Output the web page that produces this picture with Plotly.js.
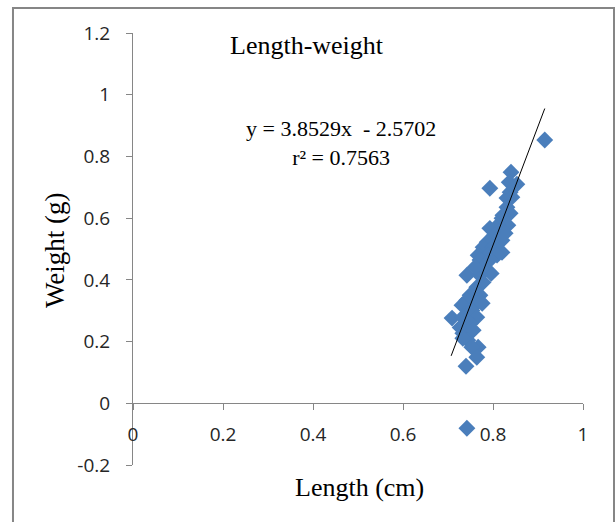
<!DOCTYPE html>
<html>
<head>
<meta charset="utf-8">
<script src="https://cdn.plot.ly/plotly-3.0.1.min.js"></script>
<style>html,body{margin:0;padding:0;background:#fff;}#chart{width:616px;height:522px;}</style>
</head>
<body>
<div id="chart"></div>
<script>
// Data
const lengthCm = [0.915,0.793,0.840,0.853,0.836,0.838,0.831,0.842,0.831,0.838,0.822,0.820,0.833,0.811,0.793,0.827,0.804,0.820,0.787,0.778,0.800,0.820,0.767,0.789,0.809,0.771,0.793,0.742,0.796,0.771,0.778,0.764,0.749,0.771,0.742,0.764,0.731,0.753,0.709,0.733,0.764,0.727,0.749,0.733,0.756,0.744,0.767,0.753,0.764,0.740,0.733,0.778,0.760,0.776,0.742];
const weightG  = [0.853,0.697,0.749,0.710,0.716,0.684,0.665,0.668,0.635,0.616,0.609,0.600,0.577,0.577,0.567,0.551,0.545,0.528,0.522,0.506,0.506,0.489,0.480,0.480,0.480,0.464,0.464,0.415,0.421,0.415,0.392,0.376,0.350,0.350,0.334,0.324,0.318,0.301,0.276,0.279,0.279,0.246,0.259,0.227,0.237,0.204,0.182,0.182,0.149,0.120,0.211,0.441,0.441,0.324,-0.081];
const slope = 3.8529;
const intercept = -2.5702;
const rSquared = 0.7563;
const trendX = [0.707, 0.915];
const xTicks = [0, 0.2, 0.4, 0.6, 0.8, 1];
const xTickLabels = ['0','0.2','0.4','0.6','0.8','1'];
const yTicks = [-0.2, 0, 0.2, 0.4, 0.6, 0.8, 1, 1.2];
const yTickLabels = ['-0.2','0','0.2','0.4','0.6','0.8','1','1.2'];

const trendY = trendX.map(x => slope * x + intercept);

const serif = '"Liberation Serif", "Times New Roman", serif';
const sans = '"Open Sans", "Liberation Sans", sans-serif';

const data = [
  {
    x: lengthCm, y: weightG, type: 'scatter', mode: 'markers',
    marker: {symbol: 'diamond', size: 13, color: '#4a7ebb', line: {width: 0}},
    hoverinfo: 'x+y', showlegend: false
  },
  {
    x: trendX, y: trendY, type: 'scatter', mode: 'lines',
    line: {color: '#000000', width: 1}, hoverinfo: 'skip', showlegend: false
  }
];

const layout = {
  width: 616, height: 522,
  margin: {l: 133, r: 33, t: 33, b: 57, pad: 0},
  paper_bgcolor: '#ffffff', plot_bgcolor: '#ffffff',
  showlegend: false,
  xaxis: {
    range: [0, 1], domain: [0, 1],
    anchor: 'free', position: 1/7,
    tickvals: xTicks, ticktext: xTickLabels,
    showgrid: false, zeroline: false,
    showline: true, linecolor: '#868686', linewidth: 1,
    ticks: 'outside', ticklen: 6, tickcolor: '#868686',
    ticklabelstandoff: 8,
    tickfont: {family: sans, size: 19, color: '#262626'}
  },
  yaxis: {
    range: [-0.2, 1.2], domain: [0, 1],
    tickvals: yTicks, ticktext: yTickLabels,
    showgrid: false, zeroline: false,
    showline: true, linecolor: '#868686', linewidth: 1,
    ticks: 'outside', ticklen: 6, tickcolor: '#868686',
    ticklabelstandoff: 12,
    tickfont: {family: sans, size: 19, color: '#262626'}
  },
  annotations: [
    {text: 'Length-weight', xref: 'paper', yref: 'paper', x: 0.387, y: 0.972,
     xanchor: 'center', yanchor: 'middle', showarrow: false,
     font: {family: serif, size: 26, color: '#000'}},
    {text: 'y = 3.8529x  - 2.5702<br>r² = ' + rSquared, xref: 'paper', yref: 'paper',
     x: 0.462, y: 0.745, xanchor: 'center', yanchor: 'middle', align: 'center', showarrow: false,
     font: {family: serif, size: 22, color: '#000'}},
    {text: 'Length (cm)', xref: 'paper', yref: 'paper', x: 0.504, y: -0.051,
     xanchor: 'center', yanchor: 'middle', showarrow: false,
     font: {family: serif, size: 26, color: '#000'}},
    {text: 'Weight (g)', xref: 'paper', yref: 'paper', x: -0.173, y: 0.498,
     xanchor: 'center', yanchor: 'middle', textangle: -90, showarrow: false,
     font: {family: serif, size: 27, color: '#000'}}
  ],
  shapes: [
    {type: 'rect', xref: 'paper', yref: 'paper', x0: -0.2667, x1: 1.0689, y0: -0.15, y1: 1.0579,
     line: {color: '#868686', width: 2}, fillcolor: 'rgba(0,0,0,0)', layer: 'below'}
  ]
};

Plotly.newPlot('chart', data, layout, {displayModeBar: false, staticPlot: true});
</script>
</body>
</html>
